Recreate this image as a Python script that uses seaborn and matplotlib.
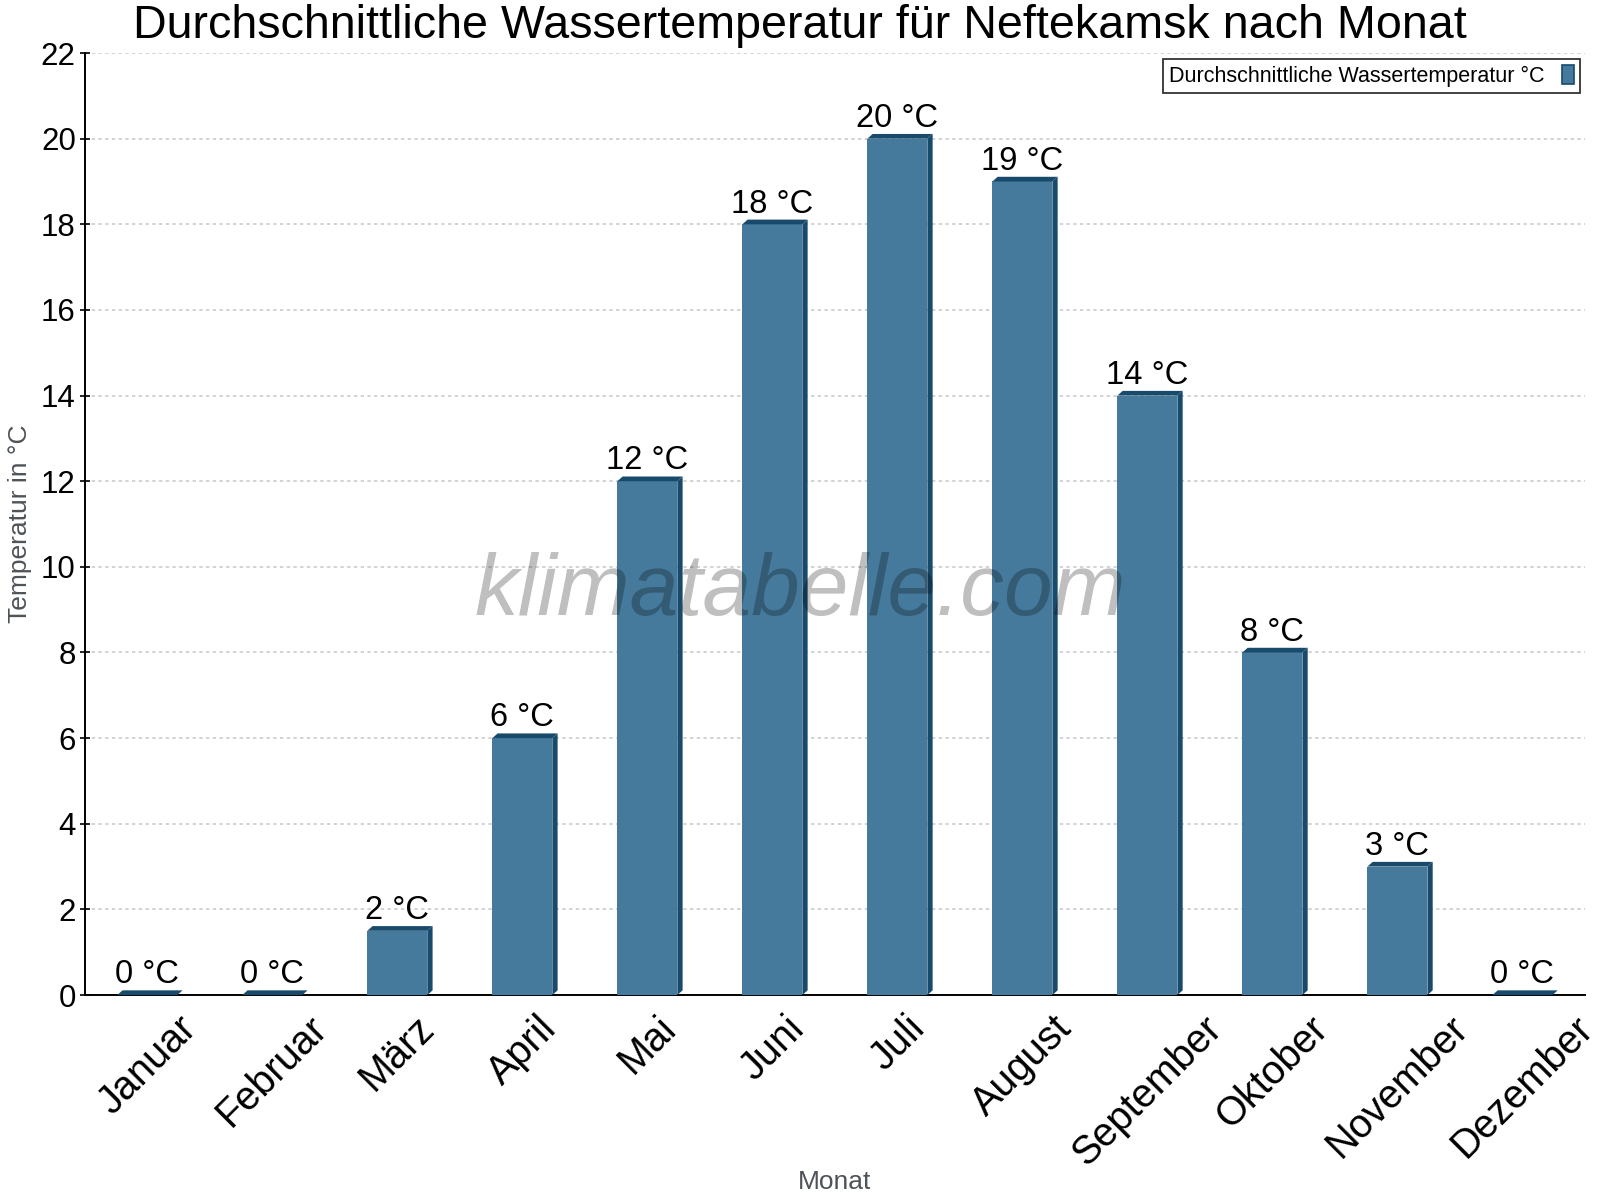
import matplotlib
matplotlib.use("Agg")
import matplotlib.pyplot as plt
import matplotlib.patches as mpatches
from matplotlib.ticker import MultipleLocator, FixedLocator
import seaborn as sns
import pandas as pd

# ---- data ----
months = ["Januar", "Februar", "März", "April", "Mai", "Juni", "Juli",
          "August", "September", "Oktober", "November", "Dezember"]
water_temp = [0, 0, 1.5, 6, 12, 18, 20, 19, 14, 8, 3, 0]
value_labels = ["0 °C", "0 °C", "2 °C", "6 °C", "12 °C", "18 °C", "20 °C",
                "19 °C", "14 °C", "8 °C", "3 °C", "0 °C"]
series_name = "Durchschnittliche Wassertemperatur °C"
title = "Durchschnittliche Wassertemperatur für Neftekamsk nach Monat"
x_label = "Monat"
y_label = "Temperatur in °C"
watermark = "klimatabelle.com"

FRONT = "#467a9c"
DARK = "#184a6b"

sns.set_style("white")
plt.rcParams["font.family"] = ["Liberation Sans", "DejaVu Sans"]
plt.rcParams["text.color"] = "black"
plt.rcParams["xtick.color"] = "black"
plt.rcParams["ytick.color"] = "black"
plt.rcParams["axes.labelcolor"] = "black"

df = pd.DataFrame({"Monat": months, "Temp": water_temp})

fig = plt.figure(figsize=(16, 12), dpi=100)
ax = fig.add_axes([0.053, 0.1708, 0.9906 - 0.053, 0.9558 - 0.1708])

sns.barplot(data=df, x="Monat", y="Temp", color=FRONT, width=0.48,
            saturation=1, linewidth=0, ax=ax, zorder=3)

ax.set_xlim(-0.5, 11.5)
ax.set_ylim(0, 22)

# pseudo 3D faces derived from the bar geometry
dx, dy = 0.042, 0.11
for bar in list(ax.patches):
    x0 = bar.get_x()
    w = bar.get_width()
    h = bar.get_height()
    x1 = x0 + w
    top = mpatches.Polygon([(x0, h), (x1, h), (x1 + dx, h + dy), (x0 + dx, h + dy)],
                           closed=True, facecolor=DARK, edgecolor="none",
                           zorder=3, clip_on=False)
    side = mpatches.Polygon([(x1, 0), (x1, h), (x1 + dx, h + dy), (x1 + dx, dy)],
                            closed=True, facecolor=DARK, edgecolor="none",
                            zorder=3, clip_on=False)
    ax.add_patch(top)
    ax.add_patch(side)

# value labels
for i, (v, lab) in enumerate(zip(water_temp, value_labels)):
    ax.annotate(lab, (i, v), xytext=(0, 8.5), textcoords="offset points",
                ha="center", va="baseline", fontsize=23.5, color="black", zorder=5)

# grid
ax.yaxis.set_major_locator(MultipleLocator(2))
ax.grid(axis="y", color="#c8c8c8", linestyle=(0, (2.2, 2.2)), linewidth=1.1, zorder=0)
ax.grid(axis="x", visible=False)

# spines
for s in ["top", "right"]:
    ax.spines[s].set_visible(False)
for s in ["left", "bottom"]:
    ax.spines[s].set_color("black")
    ax.spines[s].set_linewidth(1.4)

# ticks
ax.xaxis.set_minor_locator(FixedLocator([i - 0.5 for i in range(13)]))
ax.tick_params(axis="x", which="major", length=0, pad=10, labelsize=28.5, labelcolor="black")
ax.tick_params(axis="x", which="minor", length=7, width=1.2, direction="inout", color="black")
ax.tick_params(axis="y", which="major", length=7, width=1.2, direction="inout",
               color="black", labelsize=22.5, pad=3, left=True, labelcolor="black")
for lab in ax.get_xticklabels():
    lab.set_rotation(45)
    lab.set_ha("center")
    lab.set_va("top")

ax.set_xlabel(x_label, fontsize=19, color="#4d5358")
ax.set_ylabel(y_label, fontsize=19, color="#4d5358")
ax.xaxis.set_label_coords(0.5, -0.186)
ax.yaxis.set_label_coords(-0.0353, 0.5)

# legend
handle = mpatches.Patch(facecolor=FRONT, edgecolor=DARK, linewidth=1.2)
leg = ax.legend([handle], [series_name], loc="upper right", bbox_to_anchor=(0.9965, 0.994),
                markerfirst=False, fontsize=15.5, frameon=True, fancybox=False,
                handlelength=0.55, handleheight=1.0, handletextpad=0.8,
                borderpad=0.28, borderaxespad=0.0)
leg.get_frame().set_edgecolor("black")
leg.get_frame().set_linewidth(1.3)
for t in leg.get_texts():
    t.set_color("black")
leg.set_zorder(6)

# title and watermark
fig.suptitle(title, x=0.5, y=1 - 25.5 / 1200, va="center", fontsize=33.6, color="black")
fig.text(0.5, 1 - 592 / 1200, watermark, ha="center", va="center", fontsize=63,
         style="italic", color=(0, 0, 0, 0.25), zorder=10)

fig.savefig("out.png", dpi=100)
